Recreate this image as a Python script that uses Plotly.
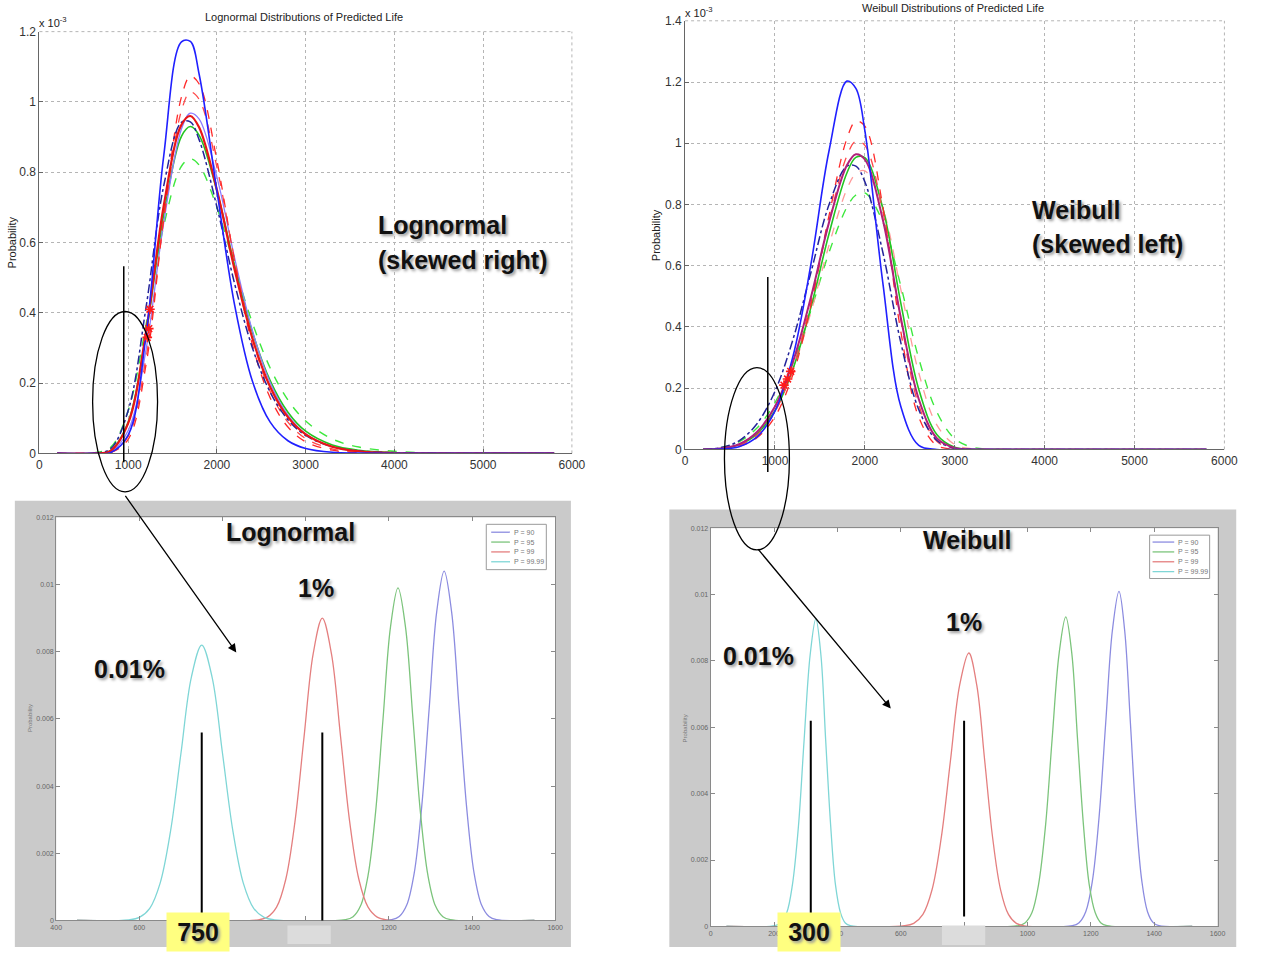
import plotly.graph_objects as go

# page is 1272x966; the html body keeps an 8px margin, so the figure starts at (8, 8)
PAGE_W, PAGE_H = 1272, 966
PAD = 8
W, H = PAGE_W - PAD, PAGE_H - PAD

# ---------------- Top-left: lognormal fits (density, units of 1e-3) ----------------
LN_X = [200, 600, 800, 1000, 1200, 1400, 1600, 1700, 1800, 2000, 2200, 2400,
        2600, 2800, 3000, 3300, 3600, 4000, 4500, 5000, 5800]
LN_BLUE = [0, 0, 0.002, 0.052, 0.334, 0.846, 1.171, 1.172, 1.078, 0.746, 0.421, 0.205,
           0.089, 0.036, 0.014, 0.003, 0.001, 0, 0, 0, 0]
LN_RED_DASH_A = [0, 0, 0.002, 0.040, 0.251, 0.668, 1.014, 1.073, 1.051, 0.833, 0.545, 0.309,
                 0.158, 0.075, 0.033, 0.009, 0.002, 0, 0, 0, 0]
LN_RED_DASH_B = [0, 0, 0.002, 0.049, 0.270, 0.664, 0.975, 1.028, 1.007, 0.814, 0.550, 0.327,
                 0.176, 0.089, 0.042, 0.013, 0.004, 0.001, 0, 0, 0]
LN_LAVENDER = [0, 0, 0.004, 0.065, 0.294, 0.656, 0.923, 0.968, 0.951, 0.786, 0.555, 0.349,
               0.201, 0.109, 0.056, 0.019, 0.006, 0.001, 0, 0, 0]
LN_RED = [0, 0, 0.007, 0.086, 0.344, 0.704, 0.935, 0.960, 0.927, 0.749, 0.522, 0.327,
          0.189, 0.103, 0.054, 0.019, 0.006, 0.001, 0, 0, 0]
LN_NAVY = [0, 0, 0.013, 0.122, 0.414, 0.761, 0.942, 0.943, 0.892, 0.701, 0.482, 0.300,
           0.174, 0.096, 0.051, 0.019, 0.007, 0.002, 0, 0, 0]
LN_GREEN = [0, 0, 0.008, 0.089, 0.338, 0.679, 0.902, 0.930, 0.905, 0.746, 0.534, 0.345,
            0.207, 0.117, 0.063, 0.024, 0.009, 0.002, 0, 0, 0]
LN_GREEN_DASH = [0, 0.001, 0.017, 0.122, 0.365, 0.647, 0.817, 0.838, 0.820, 0.699, 0.531, 0.371,
                 0.243, 0.152, 0.092, 0.041, 0.018, 0.006, 0.001, 0, 0]
LN_STAR_X = [1215, 1232, 1245]
LN_STAR_Y = [0.33, 0.355, 0.41]

# ---------------- Top-right: Weibull fits (density, units of 1e-3) ----------------
WB_X = [200, 400, 600, 800, 1000, 1200, 1400, 1600, 1800, 1900, 2000, 2200,
        2400, 2600, 2800, 3000, 3200, 3500, 4000, 4700, 5800]
WB_BLUE = [0, 0.001, 0.009, 0.041, 0.125, 0.304, 0.605, 0.973, 1.203, 1.179, 1.041, 0.544,
           0.140, 0.013, 0, 0, 0, 0, 0, 0, 0]
WB_RED_DASH_A = [0, 0.001, 0.010, 0.038, 0.107, 0.245, 0.471, 0.762, 1.015, 1.072, 1.056, 0.793,
                 0.385, 0.105, 0.013, 0.001, 0, 0, 0, 0, 0]
WB_RED_DASH_B = [0, 0.002, 0.013, 0.047, 0.123, 0.265, 0.481, 0.743, 0.959, 1.007, 0.993, 0.777,
                 0.423, 0.144, 0.027, 0.002, 0, 0, 0, 0, 0]
WB_RED = [0, 0.003, 0.017, 0.057, 0.140, 0.286, 0.497, 0.740, 0.928, 0.964, 0.947, 0.750,
          0.430, 0.164, 0.037, 0.005, 0, 0, 0, 0, 0]
WB_NAVY = [0, 0.006, 0.028, 0.084, 0.190, 0.359, 0.578, 0.798, 0.925, 0.925, 0.874, 0.644,
           0.349, 0.130, 0.030, 0.004, 0, 0, 0, 0, 0]
WB_GREEN_DASH = [0, 0.006, 0.025, 0.070, 0.153, 0.282, 0.454, 0.642, 0.791, 0.831, 0.838, 0.743,
                 0.534, 0.297, 0.123, 0.035, 0.007, 0, 0, 0, 0]
WB_GREEN = [0, 0.003, 0.015, 0.051, 0.127, 0.263, 0.464, 0.703, 0.903, 0.954, 0.953, 0.788,
            0.478, 0.196, 0.049, 0.007, 0, 0, 0, 0, 0]
WB_PINK_DASH = [0, 0.003, 0.017, 0.055, 0.131, 0.262, 0.448, 0.666, 0.850, 0.901, 0.910, 0.787,
                0.523, 0.250, 0.080, 0.016, 0.002, 0, 0, 0, 0]
WB_STAR_X = [1100, 1140, 1175]
WB_STAR_Y = [0.21, 0.23, 0.255]

# ---------------- Bottom panels: zoomed percentile distributions ----------------
SERIES_NAMES = ["P = 90", "P = 95", "P = 99", "P = 99.99"]

BL_P90_X = [450, 1207, 1225, 1243, 1261, 1279, 1297, 1315, 1333, 1351, 1369, 1387, 1405, 1423, 1441, 1459, 1550]
BL_P90_Y = [0, 0.000023, 0.000115, 0.000457, 0.00141, 0.00338, 0.00631, 0.00918, 0.0104,
            0.00918, 0.00631, 0.00338, 0.00141, 0.000457, 0.000115, 0.000023, 0]
BL_P95_X = [450, 1096, 1114, 1132, 1150, 1168, 1186, 1204, 1222, 1240, 1258, 1276, 1294, 1312, 1330, 1348, 1550]
BL_P95_Y = [0, 0.000022, 0.00011, 0.000435, 0.00134, 0.00321, 0.0060, 0.00874, 0.0099,
            0.00874, 0.0060, 0.00321, 0.00134, 0.000435, 0.00011, 0.000022, 0]
BL_P99_X = [450, 886, 908, 930, 952, 974, 996, 1018, 1040, 1062, 1084, 1106, 1128, 1150, 1172, 1194, 1550]
BL_P99_Y = [0, 0.00002, 0.0001, 0.000395, 0.00122, 0.00292, 0.00546, 0.00794, 0.0090,
            0.00794, 0.00546, 0.00292, 0.00122, 0.000395, 0.0001, 0.00002, 0]
BL_P9999_X = [450, 575, 600, 625, 650, 675, 700, 725, 750, 775, 800, 825, 850, 875, 900, 925, 1550]
BL_P9999_Y = [0, 0.000018, 0.000091, 0.00036, 0.00111, 0.00266, 0.00497, 0.00724, 0.0082,
              0.00724, 0.00497, 0.00266, 0.00111, 0.00036, 0.000091, 0.000018, 0]

BR_P90_X = [50, 1142, 1163, 1184, 1205, 1226, 1247, 1268, 1289, 1307, 1325, 1343, 1361, 1379, 1397, 1415, 1520]
BR_P90_Y = [0, 0.000022, 0.000112, 0.000443, 0.00137, 0.00328, 0.00613, 0.00891, 0.0101,
            0.00891, 0.00613, 0.00328, 0.00137, 0.000443, 0.000112, 0.000022, 0]
BR_P95_X = [50, 971, 992, 1014, 1035, 1057, 1078, 1100, 1121, 1140, 1158, 1177, 1195, 1214, 1232, 1251, 1520]
BR_P95_Y = [0, 0.000021, 0.000104, 0.00041, 0.00126, 0.00303, 0.00566, 0.00823, 0.00933,
            0.00823, 0.00566, 0.00303, 0.00126, 0.00041, 0.000104, 0.000021, 0]
BR_P99_X = [50, 612, 641, 670, 699, 728, 757, 786, 815, 840, 865, 890, 915, 940, 965, 990, 1520]
BR_P99_Y = [0, 0.000018, 0.0000915, 0.000362, 0.00111, 0.00268, 0.0050, 0.00727, 0.00824,
            0.00727, 0.0050, 0.00268, 0.00111, 0.000362, 0.0000915, 0.000018, 0]
BR_P9999_X = [50, 203, 221, 240, 258, 277, 295, 314, 332, 348, 363, 379, 394, 410, 425, 441, 1520]
BR_P9999_Y = [0, 0.00002, 0.000103, 0.000407, 0.00125, 0.00301, 0.00562, 0.00818, 0.00927,
              0.00818, 0.00562, 0.00301, 0.00125, 0.000407, 0.000103, 0.00002, 0]

BL_MARK_X = [750, 1040]
BR_MARK_X = [316, 800]

BL_TICKS = [400, 600, 800, 1000, 1200, 1400, 1600]
BL_TICKTEXT = ["400", "600", "", "", "1200", "1400", "1600"]
BR_TICKS = [0, 200, 400, 600, 800, 1000, 1200, 1400, 1600]
BR_TICKTEXT = ["0", "200", "400", "600", "", "1000", "1200", "1400", "1600"]


# ---------------- helpers: page pixel -> paper fraction ----------------
def px(x):
    return (x - PAD) / W


def py(y):
    return 1 - (y - PAD) / H


fig = go.Figure()

TOP_LN = [
    (LN_GREEN_DASH, "#3ee83e", "dash", 1.4),
    (LN_GREEN, "#22c422", "solid", 1.6),
    (LN_LAVENDER, "#8c7cff", "solid", 1.3),
    (LN_RED_DASH_B, "#ff4848", "dash", 1.3),
    (LN_RED_DASH_A, "#ff2a2a", "dash", 1.3),
    (LN_NAVY, "#23239a", "dashdot", 1.5),
    (LN_RED, "#e81616", "solid", 2.2),
    (LN_BLUE, "#2020ff", "solid", 1.6),
]
for ys, col, dash, w in TOP_LN:
    fig.add_trace(go.Scatter(x=LN_X, y=ys, mode="lines", xaxis="x", yaxis="y",
                             line=dict(color=col, dash=dash, width=w, shape="spline"),
                             showlegend=False, hoverinfo="skip"))
fig.add_trace(go.Scatter(x=LN_STAR_X, y=LN_STAR_Y, mode="markers", xaxis="x", yaxis="y",
                         marker=dict(symbol="asterisk-open", size=8, color="#ff1a1a",
                                     line=dict(color="#ff1a1a", width=1.6)),
                         showlegend=False, hoverinfo="skip"))

TOP_WB = [
    (WB_GREEN_DASH, "#3ee83e", "dash", 1.4),
    (WB_PINK_DASH, "#ff9a9a", "dash", 1.3),
    (WB_GREEN, "#22c422", "solid", 1.6),
    (WB_RED_DASH_B, "#ff4848", "dash", 1.3),
    (WB_RED_DASH_A, "#ff2a2a", "dash", 1.3),
    (WB_NAVY, "#23239a", "dashdot", 1.5),
    (WB_RED, "#b0207a", "solid", 2.0),
    (WB_BLUE, "#2020ff", "solid", 1.6),
]
for ys, col, dash, w in TOP_WB:
    fig.add_trace(go.Scatter(x=WB_X, y=ys, mode="lines", xaxis="x2", yaxis="y2",
                             line=dict(color=col, dash=dash, width=w, shape="spline"),
                             showlegend=False, hoverinfo="skip"))
fig.add_trace(go.Scatter(x=WB_STAR_X, y=WB_STAR_Y, mode="markers", xaxis="x2", yaxis="y2",
                         marker=dict(symbol="asterisk-open", size=8, color="#ff1a1a",
                                     line=dict(color="#ff1a1a", width=1.6)),
                         showlegend=False, hoverinfo="skip"))

SERIES_COLORS = ["#8c8ce0", "#7cc47c", "#e47f7f", "#7fd6d6"]
BL_SERIES = [(BL_P90_X, BL_P90_Y), (BL_P95_X, BL_P95_Y), (BL_P99_X, BL_P99_Y), (BL_P9999_X, BL_P9999_Y)]
BR_SERIES = [(BR_P90_X, BR_P90_Y), (BR_P95_X, BR_P95_Y), (BR_P99_X, BR_P99_Y), (BR_P9999_X, BR_P9999_Y)]
for (xs, ys), col, nm in zip(BL_SERIES, SERIES_COLORS, SERIES_NAMES):
    fig.add_trace(go.Scatter(x=xs, y=ys, mode="lines", xaxis="x3", yaxis="y3", name=nm,
                             line=dict(color=col, width=1.3, shape="spline"),
                             showlegend=False, hoverinfo="skip"))
for (xs, ys), col, nm in zip(BR_SERIES, SERIES_COLORS, SERIES_NAMES):
    fig.add_trace(go.Scatter(x=xs, y=ys, mode="lines", xaxis="x4", yaxis="y4", name=nm,
                             line=dict(color=col, width=1.3, shape="spline"),
                             showlegend=False, hoverinfo="skip"))

# ---------------- axes ----------------
TICKFONT_TOP = dict(family="Liberation Sans, Arial, sans-serif", size=12, color="#333")
TICKFONT_BOT = dict(family="Liberation Sans, Arial, sans-serif", size=7, color="#666")


def top_axis(dom, rng, dtick, anchor):
    return dict(domain=dom, range=rng, dtick=dtick, anchor=anchor, showgrid=True,
                gridcolor="#b5b5b5", griddash="dot", gridwidth=1, showline=True,
                linecolor="#666", linewidth=1, ticks="inside", ticklen=4, tickcolor="#666",
                tickfont=TICKFONT_TOP, zeroline=False)


def bot_axis(dom, rng, dtick, anchor, tickvals=None, ticktext=None):
    d = dict(domain=dom, range=rng, dtick=dtick, anchor=anchor, showgrid=False,
             showline=True, mirror="ticks", linecolor="#8a8a8a", linewidth=1,
             ticks="inside", ticklen=4, tickcolor="#8a8a8a", tickfont=TICKFONT_BOT,
             zeroline=False)
    if tickvals is not None:
        d.update(tickmode="array", tickvals=tickvals, ticktext=ticktext)
    return d


layout = dict(
    width=W, height=H, margin=dict(l=0, r=0, t=0, b=0),
    paper_bgcolor="white", plot_bgcolor="white", showlegend=False,
    xaxis=top_axis([px(42), px(583)], [0, 6000], 1000, "y"),
    yaxis=top_axis([py(461), py(33)], [0, 1.2], 0.2, "x"),
    xaxis2=top_axis([px(698), px(1246)], [0, 6000], 1000, "y2"),
    yaxis2=top_axis([py(457), py(22)], [0, 1.4], 0.2, "x2"),
    xaxis3=bot_axis([px(59), px(566)], [400, 1600], 200, "y3", BL_TICKS, BL_TICKTEXT),
    yaxis3=bot_axis([py(935), py(526)], [0, 0.012], 0.002, "x3"),
    xaxis4=bot_axis([px(724), px(1239)], [0, 1600], 200, "y4", BR_TICKS, BR_TICKTEXT),
    yaxis4=bot_axis([py(941), py(537)], [0, 0.012], 0.002, "x4"),
)
fig.update_layout(**layout)

# ---------------- shapes ----------------
shapes = []


def prect(x0, x1, y0, y1, fill, layer="below", line=None):
    return dict(type="rect", xref="paper", yref="paper", x0=px(x0), x1=px(x1),
                y0=py(y1), y1=py(y0), fillcolor=fill, layer=layer,
                line=line or dict(width=0))


shapes.append(prect(17, 582, 509, 962, "#cacaca"))
shapes.append(prect(682, 1258, 518, 962, "#cacaca"))
shapes.append(prect(59, 566, 526, 935, "white"))
shapes.append(prect(724, 1239, 537, 941, "white"))

# dotted top/right frame of the top charts (grid at the range edges)
for xr, yr in [("x", "y"), ("x2", "y2")]:
    for (a0, b0, a1, b1) in [(0, 1, 1, 1), (1, 0, 1, 1)]:
        shapes.append(dict(type="line", xref=xr + " domain", yref=yr + " domain",
                           x0=a0, y0=b0, x1=a1, y1=b1,
                           line=dict(color="#b5b5b5", width=1, dash="dot"), layer="below"))

# ellipses
for (x0, x1, y0, y1) in [(96, 162, 317, 500), (738, 804, 374, 559)]:
    shapes.append(dict(type="circle", xref="paper", yref="paper", x0=px(x0), x1=px(x1),
                       y0=py(y1), y1=py(y0), line=dict(color="black", width=1.3), layer="above"))

# vertical marker lines on top charts
shapes.append(dict(type="line", xref="x", yref="paper", x0=950, x1=950, y0=py(470), y1=py(271),
                   line=dict(color="black", width=1.5), layer="above"))
shapes.append(dict(type="line", xref="x2", yref="paper", x0=920, x1=920, y0=py(480), y1=py(282),
                   line=dict(color="black", width=1.5), layer="above"))
# vertical marker lines on bottom charts
for xv in BL_MARK_X:
    shapes.append(dict(type="line", xref="x3", yref="y3", x0=xv, x1=xv, y0=-0.00015, y1=0.0056,
                       line=dict(color="black", width=2), layer="above"))
for xv in BR_MARK_X:
    shapes.append(dict(type="line", xref="x4", yref="y4", x0=xv, x1=xv, y0=0.0003, y1=0.0062,
                       line=dict(color="black", width=2), layer="above"))

# light grey label covers
shapes.append(prect(294, 338, 940, 959, "#dcdcdc", layer="above"))
shapes.append(prect(959, 1003, 940, 960, "#dcdcdc", layer="above"))

# custom legends
shapes.append(prect(496, 557, 533, 579, "white", layer="above", line=dict(color="#9a9a9a", width=1)))
shapes.append(prect(1170, 1231, 544, 588, "white", layer="above", line=dict(color="#9a9a9a", width=1)))

annotations = []
LEG_FONT = dict(family="Liberation Sans, Arial, sans-serif", size=7, color="#777")
for i, (col, nm) in enumerate(zip(SERIES_COLORS, SERIES_NAMES)):
    yy = 541 + 10 * i
    shapes.append(dict(type="line", xref="paper", yref="paper", x0=px(501), x1=px(520),
                       y0=py(yy), y1=py(yy), line=dict(color=col, width=1.3), layer="above"))
    annotations.append(dict(x=px(522), y=py(yy), xref="paper", yref="paper", text=nm,
                            showarrow=False, xanchor="left", yanchor="middle", font=LEG_FONT))
    yy2 = 551 + 10 * i
    shapes.append(dict(type="line", xref="paper", yref="paper", x0=px(1173), x1=px(1195),
                       y0=py(yy2), y1=py(yy2), line=dict(color=col, width=1.3), layer="above"))
    annotations.append(dict(x=px(1197), y=py(yy2), xref="paper", yref="paper", text=nm,
                            showarrow=False, xanchor="left", yanchor="middle", font=LEG_FONT))

fig.update_layout(shapes=shapes)

# ---------------- text ----------------
SMALL = dict(family="Liberation Sans, Arial, sans-serif", size=11, color="#222")
BIG = dict(family="Liberation Sans, Arial, sans-serif",
           size=25, color="#111", shadow="2px 2px 3px #9a9a9a")


def ann(text, x, y, font, xanchor="left", yanchor="middle", **kw):
    d = dict(text=text, x=px(x), y=py(y), xref="paper", yref="paper", showarrow=False,
             xanchor=xanchor, yanchor=yanchor, font=font)
    d.update(kw)
    return d


annotations += [
    ann("Lognormal Distributions of Predicted Life", 311, 18, SMALL, xanchor="center"),
    ann("Weibull Distributions of Predicted Life", 970, 9, SMALL, xanchor="center"),
    ann("x 10<sup>-3</sup>", 40, 23, SMALL),
    ann("x 10<sup>-3</sup>", 696, 13, SMALL),
    ann("Probability", 14, 247, SMALL, xanchor="center", textangle=-90),
    ann("Probability", 668, 240, SMALL, xanchor="center", textangle=-90),
    ann("Probability", 33, 730, dict(family="Liberation Sans, Arial", size=6, color="#777"),
        xanchor="center", textangle=-90),
    ann("Probability", 698, 740, dict(family="Liberation Sans, Arial", size=6, color="#777"),
        xanchor="center", textangle=-90),
    ann("<b>Lognormal</b>", 384, 229, BIG),
    ann("<b>(skewed right)</b>", 384, 265, BIG),
    ann("<b>Weibull</b>", 1048, 214, BIG),
    ann("<b>(skewed left)</b>", 1048, 249, BIG),
    ann("<b>Lognormal</b>", 230, 541, BIG),
    ann("<b>1%</b>", 303, 598, BIG),
    ann("<b>0.01%</b>", 95, 680, BIG),
    ann("<b>Weibull</b>", 938, 549, BIG),
    ann("<b>1%</b>", 961, 632, BIG),
    ann("<b>0.01%</b>", 735, 667, BIG),
    ann("<b>750</b>", 203, 947, BIG, xanchor="center", bgcolor="#ffff80", width=62, height=38,
        borderpad=0),
    ann("<b>300</b>", 824, 947, BIG, xanchor="center", bgcolor="#ffff80", width=62, height=38,
        borderpad=0),
    dict(x=px(242), y=py(663), xref="paper", yref="paper", text="", showarrow=True,
         ax=-112, ay=-158, arrowhead=2, arrowsize=1.3, arrowwidth=1.3, arrowcolor="black"),
    dict(x=px(907), y=py(720), xref="paper", yref="paper", text="", showarrow=True,
         ax=-134, ay=-161, arrowhead=2, arrowsize=1.3, arrowwidth=1.3, arrowcolor="black"),
]
fig.update_layout(annotations=annotations)

fig.write_html("out.html")
